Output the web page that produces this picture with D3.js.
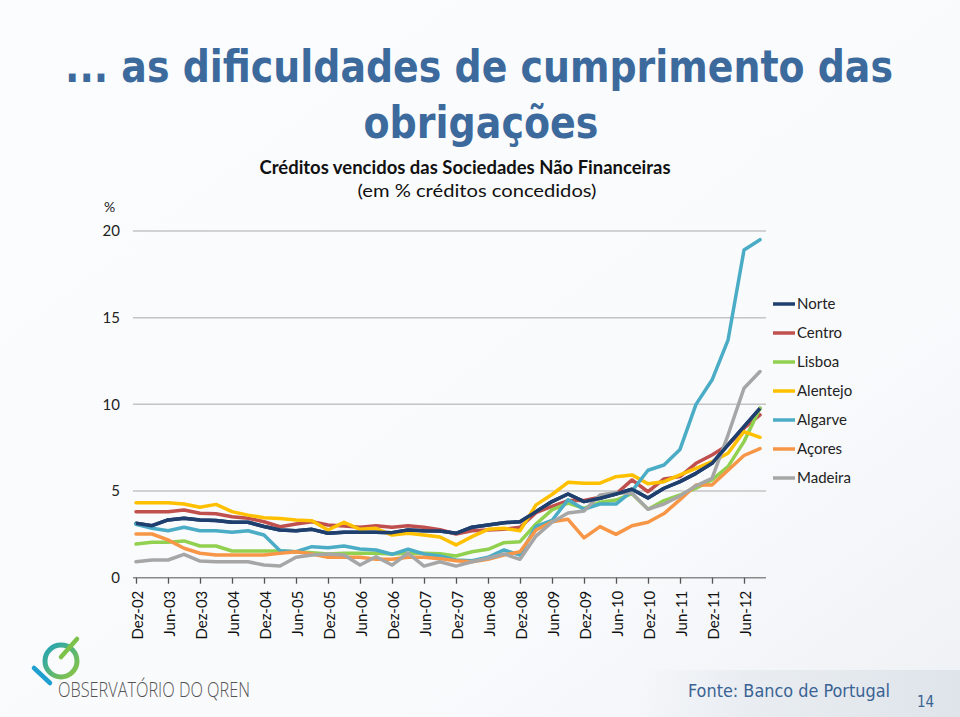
<!DOCTYPE html>
<html><head><meta charset="utf-8">
<script src="https://cdn.jsdelivr.net/npm/d3@7"></script>
<style>
html,body{margin:0;padding:0;background:#fff;}
svg{display:block;}
</style></head>
<body>
<svg id="chart" width="960" height="717"></svg>
<script>
const categories = ["Dez-02","Mar-03","Jun-03","Set-03","Dez-03","Mar-04","Jun-04","Set-04","Dez-04","Mar-05",
"Jun-05","Set-05","Dez-05","Mar-06","Jun-06","Set-06","Dez-06","Mar-07","Jun-07","Set-07",
"Dez-07","Mar-08","Jun-08","Set-08","Dez-08","Mar-09","Jun-09","Set-09","Dez-09","Mar-10",
"Jun-10","Set-10","Dez-10","Mar-11","Jun-11","Set-11","Dez-11","Mar-12","Jun-12","Set-12"];

const norte    = [3.14,3.0,3.33,3.43,3.33,3.3,3.2,3.2,2.95,2.75, 2.71,2.79,2.56,2.62,2.62,2.62,2.6,2.75,2.71,2.7, 2.56,2.91,3.04,3.17,3.23,3.81,4.39,4.83,4.39,4.58, 4.83,5.1,4.6,5.16,5.54,6.02,6.6,7.66,8.71,9.77];
const centro   = [3.81,3.81,3.81,3.91,3.72,3.69,3.52,3.43,3.23,2.94, 3.1,3.23,3.04,2.98,2.91,3.0,2.91,3.0,2.91,2.77, 2.52,2.71,2.75,2.79,2.91,3.75,4.12,4.45,4.45,4.65, 4.83,5.64,4.96,5.7,5.83,6.6,7.08,7.66,8.62,9.39];
const lisboa   = [1.94,2.04,2.04,2.12,1.83,1.83,1.54,1.54,1.54,1.54, 1.5,1.44,1.37,1.41,1.41,1.41,1.37,1.41,1.41,1.38, 1.25,1.5,1.64,2.02,2.08,3.1,3.91,4.3,4.0,4.35, 4.48,4.85,3.95,4.45,4.77,5.16,5.64,6.41,7.85,9.77];
const alentejo = [4.33,4.33,4.33,4.25,4.06,4.23,3.81,3.61,3.46,3.42, 3.33,3.29,2.75,3.2,2.79,2.85,2.46,2.56,2.46,2.35, 1.89,2.37,2.79,2.85,2.71,4.2,4.8,5.5,5.45,5.45, 5.83,5.93,5.42,5.54,5.93,6.31,6.69,7.18,8.43,8.1];
const algarve  = [3.08,2.85,2.71,2.91,2.71,2.71,2.62,2.71,2.46,1.56, 1.5,1.79,1.73,1.83,1.66,1.6,1.35,1.64,1.37,1.25, 1.02,0.98,1.18,1.6,1.31,2.96,3.3,4.5,3.95,4.25, 4.25,5.0,6.2,6.5,7.4,10.0,11.4,13.7,18.9,19.5];
const acores   = [2.52,2.52,2.18,1.7,1.41,1.31,1.31,1.31,1.31,1.41, 1.5,1.37,1.18,1.18,1.18,1.06,1.06,1.18,1.18,1.1, 0.98,0.92,1.06,1.31,1.5,2.75,3.23,3.37,2.3,2.95, 2.5,3.0,3.2,3.7,4.5,5.35,5.35,6.2,7.05,7.45];
const madeira  = [0.92,1.02,1.02,1.35,0.96,0.92,0.92,0.92,0.73,0.67, 1.18,1.31,1.37,1.31,0.73,1.21,0.73,1.41,0.67,0.92, 0.67,0.92,1.12,1.37,1.06,2.4,3.2,3.73,3.85,4.77, 4.9,4.87,3.95,4.25,4.72,5.3,5.73,8.23,10.93,11.89];

const seriesNames  = ["Norte","Centro","Lisboa","Alentejo","Algarve","Açores","Madeira"];
const seriesValues = [norte, centro, lisboa, alentejo, algarve, acores, madeira];
const seriesColors = ["#1f3f6e","#c0504d","#92d050","#ffc000","#4bacc6","#f79646","#a6a6a6"];
const yTicks = [0,5,10,15,20];

const svg = d3.select("#chart");
const defs = svg.append("defs");

// background
const bg = defs.append("linearGradient").attr("id","bg").attr("x1","0").attr("y1","0").attr("x2","1").attr("y2","1");
bg.append("stop").attr("offset","0%").attr("stop-color","#fbfcfd");
bg.append("stop").attr("offset","70%").attr("stop-color","#f9fafc");
bg.append("stop").attr("offset","100%").attr("stop-color","#eef1f5");
svg.append("rect").attr("width",960).attr("height",717).attr("fill","url(#bg)");
const bb = defs.append("linearGradient").attr("id","bb").attr("x1","0").attr("y1","0").attr("x2","1").attr("y2","0");
bb.append("stop").attr("offset","0%").attr("stop-color","#e6ebf0").attr("stop-opacity",0);
bb.append("stop").attr("offset","35%").attr("stop-color","#e6ebf0").attr("stop-opacity",0.8);
bb.append("stop").attr("offset","100%").attr("stop-color","#dfe4ea");
svg.append("rect").attr("x",640).attr("y",670).attr("width",320).attr("height",47).attr("fill","url(#bb)");

// titles
svg.append("text").attr("x",479).attr("y",82).attr("text-anchor","middle")
  .attr("font-family","'DejaVu Sans Condensed','DejaVu Sans',sans-serif").attr("font-weight","bold")
  .attr("font-size",45).attr("fill","#3d6a9c")
  .attr("textLength",828).attr("lengthAdjust","spacingAndGlyphs")
  .text("... as dificuldades de cumprimento das");
svg.append("text").attr("x",481).attr("y",138).attr("text-anchor","middle")
  .attr("font-family","'DejaVu Sans Condensed','DejaVu Sans',sans-serif").attr("font-weight","bold")
  .attr("font-size",45).attr("fill","#3d6a9c")
  .attr("textLength",235).attr("lengthAdjust","spacingAndGlyphs")
  .text("obrigações");
svg.append("text").attr("x",465).attr("y",174).attr("text-anchor","middle")
  .attr("font-family","Lato,'Open Sans',sans-serif").attr("font-weight","bold")
  .attr("font-size",18).attr("fill","#111")
  .attr("textLength",411).attr("lengthAdjust","spacingAndGlyphs")
  .text("Créditos vencidos das Sociedades Não Financeiras");
svg.append("text").attr("x",477).attr("y",197).attr("text-anchor","middle")
  .attr("font-family","Lato,'Open Sans',sans-serif")
  .attr("font-size",18).attr("fill","#111")
  .attr("textLength",239).attr("lengthAdjust","spacingAndGlyphs")
  .text("(em % créditos concedidos)");

// scales
const x = d3.scalePoint().domain(categories).range([136, 760]);
const y = d3.scaleLinear().domain([0, 20]).range([577.7, 231]);

// gridlines
svg.append("g").selectAll("line").data(yTicks.filter(d => d > 0)).join("line")
  .attr("x1",133).attr("x2",766).attr("y1",d=>y(d)).attr("y2",d=>y(d))
  .attr("stroke","#c4c4c4").attr("stroke-width",1.5);

// y axis
const yAxis = svg.append("g").attr("transform","translate(124,0)")
  .call(d3.axisLeft(y).tickValues(yTicks).tickSize(0).tickPadding(4));
yAxis.select(".domain").remove();
yAxis.selectAll("text").attr("font-family","Lato,'Open Sans',sans-serif").attr("font-size",15).attr("fill","#222");
svg.append("text").attr("x",104).attr("y",212).attr("font-family","Lato,'Open Sans',sans-serif")
  .attr("font-size",14).attr("fill","#222").text("%");

// x axis
const xLabels = categories.filter((d,i) => i % 2 === 0);
const xAxis = svg.append("g").attr("transform",`translate(0,${y(0)})`)
  .call(d3.axisBottom(x).tickValues(xLabels).tickSize(6).tickSizeOuter(0).tickPadding(6));
xAxis.select(".domain").remove();
xAxis.insert("line",":first-child").attr("x1",133).attr("x2",766).attr("y1",0).attr("y2",0)
  .attr("stroke","#8a8a8a").attr("stroke-width",1.5);
xAxis.selectAll(".tick line").attr("stroke","#555").attr("stroke-width",1.3);
xAxis.selectAll(".tick text")
  .attr("font-family","Lato,'Open Sans',sans-serif").attr("font-size",15).attr("fill","#111")
  .attr("text-anchor","end")
  .attr("transform","rotate(-90)").attr("x",-13).attr("y",1).attr("dy","0.35em");

// lines
const line = d3.line().x((d,i) => x(categories[i])).y(d => y(d));
const lg = svg.append("g");
seriesValues.forEach((vals, k) => {
  lg.append("path").datum(vals).attr("d", line)
    .attr("fill","none").attr("stroke",seriesColors[k]).attr("stroke-width",3.5)
    .attr("stroke-linejoin","round").attr("stroke-linecap","round");
});
lg.append("path").datum(norte).attr("d", line).attr("fill","none")
  .attr("stroke",seriesColors[0]).attr("stroke-width",3.5).attr("stroke-linejoin","round");

// legend
const leg = svg.append("g");
seriesNames.forEach((n, k) => {
  const yy = 304 + k * 29;
  leg.append("line").attr("x1",773).attr("x2",795).attr("y1",yy).attr("y2",yy)
    .attr("stroke",seriesColors[k]).attr("stroke-width",3.5);
  leg.append("text").attr("x",797).attr("y",yy).attr("dy","0.35em")
    .attr("font-family","Lato,'Open Sans',sans-serif").attr("font-size",15).attr("fill","#222").text(n);
});

// footer logo
const lgr = defs.append("linearGradient").attr("id","ring").attr("x1","0").attr("y1","0").attr("x2","1").attr("y2","1");
lgr.append("stop").attr("offset","0%").attr("stop-color","#1fa3b8");
lgr.append("stop").attr("offset","100%").attr("stop-color","#8dc63f");
svg.append("circle").attr("cx",61).attr("cy",661).attr("r",16).attr("fill","none")
  .attr("stroke","url(#ring)").attr("stroke-width",5);
svg.append("line").attr("x1",61).attr("y1",657).attr("x2",77).attr("y2",639)
  .attr("stroke","#7cc24a").attr("stroke-width",4.5).attr("stroke-linecap","round");
svg.append("line").attr("x1",34).attr("y1",668).attr("x2",50).attr("y2",683)
  .attr("stroke","#1e9fd0").attr("stroke-width",4.5).attr("stroke-linecap","round");
svg.append("text").attr("x",58).attr("y",697)
  .attr("font-family","'Open Sans',Lato,sans-serif").attr("font-weight",300)
  .attr("font-size",20).attr("fill","#555")
  .attr("textLength",192).attr("lengthAdjust","spacingAndGlyphs")
  .text("OBSERVATÓRIO DO QREN");
svg.append("text").attr("x",688).attr("y",697)
  .attr("font-family","'DejaVu Sans Condensed','DejaVu Sans',sans-serif")
  .attr("font-size",17).attr("fill","#3a6394")
  .attr("textLength",202).attr("lengthAdjust","spacingAndGlyphs")
  .text("Fonte: Banco de Portugal");
svg.append("text").attr("x",917).attr("y",707)
  .attr("font-family","'DejaVu Sans Condensed','DejaVu Sans',sans-serif")
  .attr("font-size",15).attr("fill","#3a6394").text("14");
</script>
</body></html>
